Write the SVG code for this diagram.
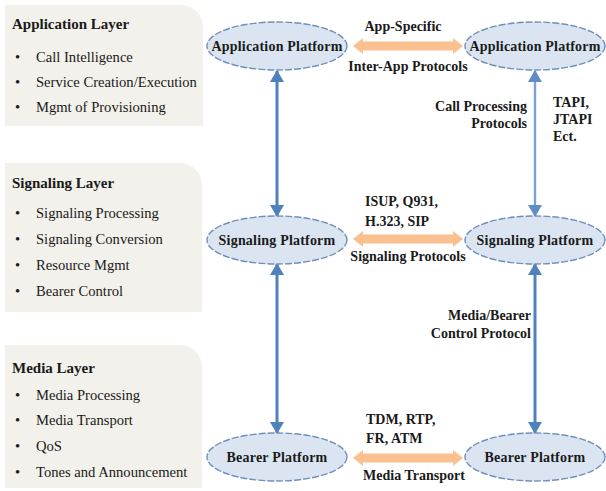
<svg xmlns="http://www.w3.org/2000/svg" width="606" height="491" viewBox="0 0 606 491">
<style>
.panel{fill:#f2f1eb}
.ttl{font-family:"Liberation Serif","Times New Roman",serif;font-weight:bold;font-size:15px;fill:#1a1a1a}
.itm{font-family:"Liberation Serif","Times New Roman",serif;font-size:14.6px;fill:#1a1a1a}
.ell{fill:#dbe5f1;stroke:#6f8fba;stroke-width:1.4;stroke-dasharray:7 2}
.nt{font-family:"Liberation Serif","Times New Roman",serif;font-weight:bold;font-size:14px;letter-spacing:0.2px;fill:#1a1a1a;text-anchor:middle}
.lb{font-family:"Liberation Serif","Times New Roman",serif;font-weight:bold;font-size:14px;fill:#1a1a1a}
.vl{stroke:#4f81bd;stroke-width:3;fill:none;marker-start:url(#ah);marker-end:url(#ah)}
.vl2{stroke:#7aa1d2;stroke-width:2.4;fill:none;marker-start:url(#ah2);marker-end:url(#ah2)}
.oa{fill:#fac08f}
</style>
<defs>
<marker id="ah" markerUnits="userSpaceOnUse" markerWidth="14" markerHeight="14" viewBox="0 0 12 14" refX="11" refY="7" orient="auto-start-reverse">
<path d="M0,0 L12,7 L0,14 Z" fill="#4f81bd"/>
</marker>
<marker id="ah2" markerUnits="userSpaceOnUse" markerWidth="14" markerHeight="14" viewBox="0 0 12 14" refX="11" refY="7" orient="auto-start-reverse">
<path d="M0,0 L12,7 L0,14 Z" fill="#5d8cc6"/>
</marker>
</defs>

<g id="app-layer">
<path class="panel" d="M5,5 H181 A22,22 0 0 1 203,27 V126 H5 Z"/>
<text class="ttl" x="12" y="29">Application Layer</text>
<text class="itm" x="15" y="62">•</text><text class="itm" x="36" y="62">Call Intelligence</text>
<text class="itm" x="15" y="87">•</text><text class="itm" x="36" y="87">Service Creation/Execution</text>
<text class="itm" x="15" y="112">•</text><text class="itm" x="36" y="112">Mgmt of Provisioning</text>
</g>

<g id="sig-layer">
<path class="panel" d="M5,163 H180 A22,22 0 0 1 202,185 V312 H5 Z"/>
<text class="ttl" x="12" y="188">Signaling Layer</text>
<text class="itm" x="15" y="218">•</text><text class="itm" x="36" y="218">Signaling Processing</text>
<text class="itm" x="15" y="244">•</text><text class="itm" x="36" y="244">Signaling Conversion</text>
<text class="itm" x="15" y="270">•</text><text class="itm" x="36" y="270">Resource Mgmt</text>
<text class="itm" x="15" y="296">•</text><text class="itm" x="36" y="296">Bearer Control</text>
</g>

<g id="media-layer">
<path class="panel" d="M5,345 H180 A22,22 0 0 1 202,367 V488 H5 Z"/>
<text class="ttl" x="12" y="373">Media Layer</text>
<text class="itm" x="15" y="400">•</text><text class="itm" x="36" y="400">Media Processing</text>
<text class="itm" x="15" y="425">•</text><text class="itm" x="36" y="425">Media Transport</text>
<text class="itm" x="15" y="451">•</text><text class="itm" x="36" y="451">QoS</text>
<text class="itm" x="15" y="477">•</text><text class="itm" x="36" y="477">Tones and Announcement</text>
</g>

<g id="connectors">
<line class="vl" x1="277" y1="71" x2="277" y2="216"/>
<line class="vl" x1="277" y1="264" x2="277" y2="433"/>
<line class="vl2" x1="535" y1="71" x2="535" y2="216"/>
<line class="vl" x1="535" y1="264" x2="535" y2="433"/>
<path class="oa" d="M353,46 L363,38 L363,41.5 L453,41.5 L453,38 L463,46 L453,54 L453,50.5 L363,50.5 L363,54 Z"/>
<path class="oa" d="M353,239 L363,231 L363,234.5 L453,234.5 L453,231 L463,239 L453,247 L453,243.5 L363,243.5 L363,247 Z"/>
<path class="oa" d="M353,458 L363,450 L363,453.5 L453,453.5 L453,450 L463,458 L453,466 L453,462.5 L363,462.5 L363,466 Z"/>
<text class="lb" x="403" y="31" text-anchor="middle">App-Specific</text>
<text class="lb" x="408" y="71" text-anchor="middle">Inter-App Protocols</text>
<text class="lb" x="527" y="111" text-anchor="end">Call Processing</text>
<text class="lb" x="527" y="128" text-anchor="end">Protocols</text>
<text class="lb" x="553" y="107">TAPI,</text>
<text class="lb" x="553" y="124">JTAPI</text>
<text class="lb" x="553" y="141">Ect.</text>
<text class="lb" x="365" y="206">ISUP, Q931,</text>
<text class="lb" x="365" y="226">H.323, SIP</text>
<text class="lb" x="408" y="261" text-anchor="middle">Signaling Protocols</text>
<text class="lb" x="531" y="320" text-anchor="end">Media/Bearer</text>
<text class="lb" x="531" y="338" text-anchor="end">Control Protocol</text>
<text class="lb" x="366" y="424">TDM, RTP,</text>
<text class="lb" x="366" y="443">FR, ATM</text>
<text class="lb" x="414" y="480" text-anchor="middle">Media Transport</text>
</g>

<g id="app-platform-left">
<ellipse class="ell" cx="277" cy="46" rx="70" ry="24"/>
<text class="nt" x="277" y="51">Application Platform</text>
</g>
<g id="app-platform-right">
<ellipse class="ell" cx="535" cy="46" rx="70" ry="24"/>
<text class="nt" x="535" y="51">Application Platform</text>
</g>
<g id="sig-platform-left">
<ellipse class="ell" cx="277" cy="240" rx="70" ry="24"/>
<text class="nt" x="277" y="245">Signaling Platform</text>
</g>
<g id="sig-platform-right">
<ellipse class="ell" cx="535" cy="240" rx="70" ry="24"/>
<text class="nt" x="535" y="245">Signaling Platform</text>
</g>
<g id="bearer-platform-left">
<ellipse class="ell" cx="277" cy="457" rx="70" ry="24"/>
<text class="nt" x="277" y="462">Bearer Platform</text>
</g>
<g id="bearer-platform-right">
<ellipse class="ell" cx="535" cy="457" rx="70" ry="24"/>
<text class="nt" x="535" y="462">Bearer Platform</text>
</g>
</svg>
